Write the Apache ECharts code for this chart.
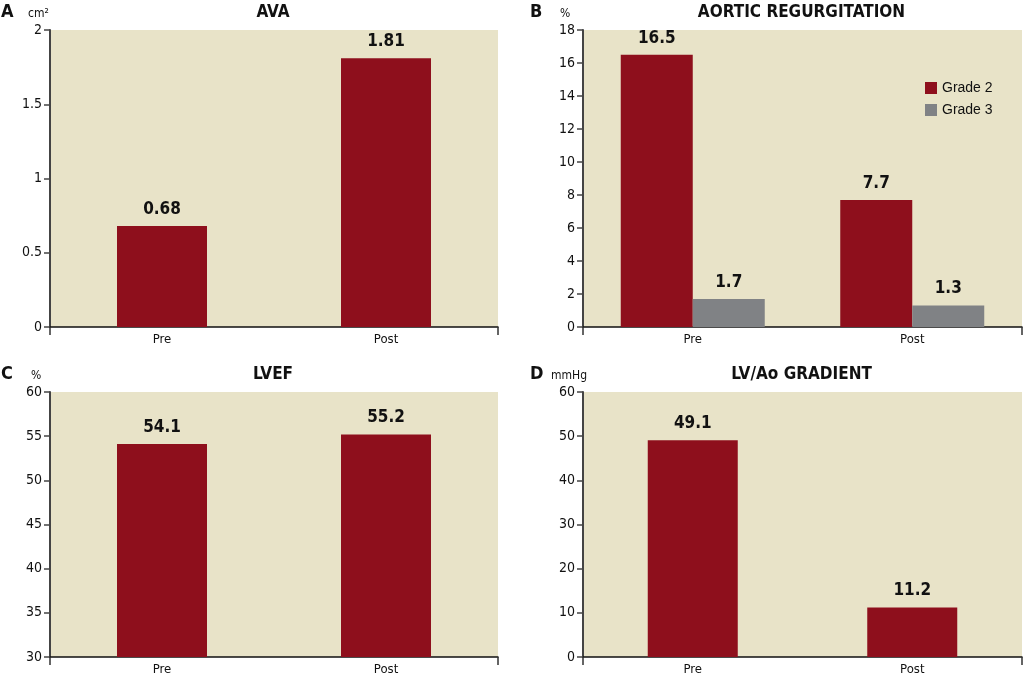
<!DOCTYPE html>
<html><head><meta charset="utf-8">
<script src="https://cdn.jsdelivr.net/npm/echarts@6/dist/echarts.min.js"></script>
<style>html,body{margin:0;padding:0;background:#fff}#c{width:1025px;height:676px}</style>
</head><body><div id="c"></div>
<script>
const categories = ['Pre', 'Post'];
const avaValues = [0.68, 1.81];
const arGrade2 = [16.5, 7.7];
const arGrade3 = [1.7, 1.3];
const lvefValues = [54.1, 55.2];
const gradientValues = [49.1, 11.2];
const titles = ['AVA', 'AORTIC REGURGITATION', 'LVEF', 'LV/Ao GRADIENT'];
const panelLetters = ['A', 'B', 'C', 'D'];
const units = ['cm²', '%', '%', 'mmHg'];

const FONT = "'Liberation Sans Narrow','DejaVu Sans Condensed',sans-serif";
const RED = '#8E0F1C', GREY = '#808285', BG = '#E8E3C8';
const grids = [
  {left: 50, top: 30, width: 448, height: 297},
  {left: 583, top: 30, width: 439, height: 297},
  {left: 50, top: 392, width: 448, height: 265},
  {left: 583, top: 392, width: 439, height: 265}
];
const yRanges = [[0, 2, 0.5], [0, 18, 2], [30, 60, 5], [0, 60, 10]];
const unitPos = [[28, 8], [560, 8], [31, 370], [551, 370]];

const chart = echarts.init(document.getElementById('c'));
const xAxis = grids.map((g, i) => ({
  type: 'category', gridIndex: i, data: categories,
  axisLine: {lineStyle: {color: '#111', width: 1.5}},
  axisTick: {show: true, length: 8, lineStyle: {color: '#333', width: 1.5}, interval: (idx) => idx !== 1},
  axisLabel: {color: '#111', fontFamily: FONT, fontSize: 13, margin: 6}
}));
const yAxis = grids.map((g, i) => ({
  type: 'value', gridIndex: i, min: yRanges[i][0], max: yRanges[i][1], interval: yRanges[i][2],
  axisLine: {show: true, lineStyle: {color: '#444', width: 2}},
  axisTick: {show: true, length: 6, lineStyle: {color: '#444', width: 1.5}},
  splitLine: {show: false},
  axisLabel: {color: '#111', fontFamily: FONT, fontSize: 14, margin: 8}
}));
const valueLabel = {show: true, position: 'top', distance: 8, color: '#111', fontFamily: FONT, fontWeight: 'bold', fontSize: 17};
const series = [
  {type: 'bar', xAxisIndex: 0, yAxisIndex: 0, data: avaValues, barWidth: 90, itemStyle: {color: RED}, label: valueLabel},
  {type: 'bar', name: 'Grade 2', xAxisIndex: 1, yAxisIndex: 1, data: arGrade2, barWidth: 72, barGap: '0%', itemStyle: {color: RED}, label: valueLabel},
  {type: 'bar', name: 'Grade 3', xAxisIndex: 1, yAxisIndex: 1, data: arGrade3, barWidth: 72, barGap: '0%', itemStyle: {color: GREY}, label: valueLabel},
  {type: 'bar', xAxisIndex: 2, yAxisIndex: 2, data: lvefValues, barWidth: 90, itemStyle: {color: RED}, label: valueLabel},
  {type: 'bar', xAxisIndex: 3, yAxisIndex: 3, data: gradientValues, barWidth: 90, itemStyle: {color: RED}, label: valueLabel}
];
const titleOpts = [];
grids.forEach((g, i) => {
  titleOpts.push({text: titles[i], left: g.left + g.width / 2 - 1, top: g.top - 26, textAlign: 'center',
    textStyle: {fontFamily: FONT, fontWeight: 'bold', fontSize: 17, color: '#111'}});
  titleOpts.push({text: panelLetters[i], left: i % 2 === 0 ? 1 : 530, top: g.top - 27,
    textStyle: {fontFamily: FONT, fontWeight: 'bold', fontSize: 18, color: '#111'}});
  titleOpts.push({text: units[i], left: unitPos[i][0], top: unitPos[i][1],
    textStyle: {fontFamily: FONT, fontWeight: 'normal', fontSize: 12, color: '#111'}});
});
chart.setOption({
  animation: false,
  title: titleOpts.map(t => Object.assign({padding: 0}, t)),
  grid: grids.map(g => Object.assign({show: true, backgroundColor: BG, borderWidth: 0, containLabel: false}, g)),
  legend: {data: ['Grade 2', 'Grade 3'], orient: 'vertical', left: 920, top: 76, icon: 'rect',
    itemWidth: 12, itemHeight: 12, itemGap: 8, textStyle: {fontFamily: "'Liberation Sans',Arial,sans-serif", fontSize: 14, color: '#111'}},
  xAxis, yAxis, series
});
</script></body></html>
